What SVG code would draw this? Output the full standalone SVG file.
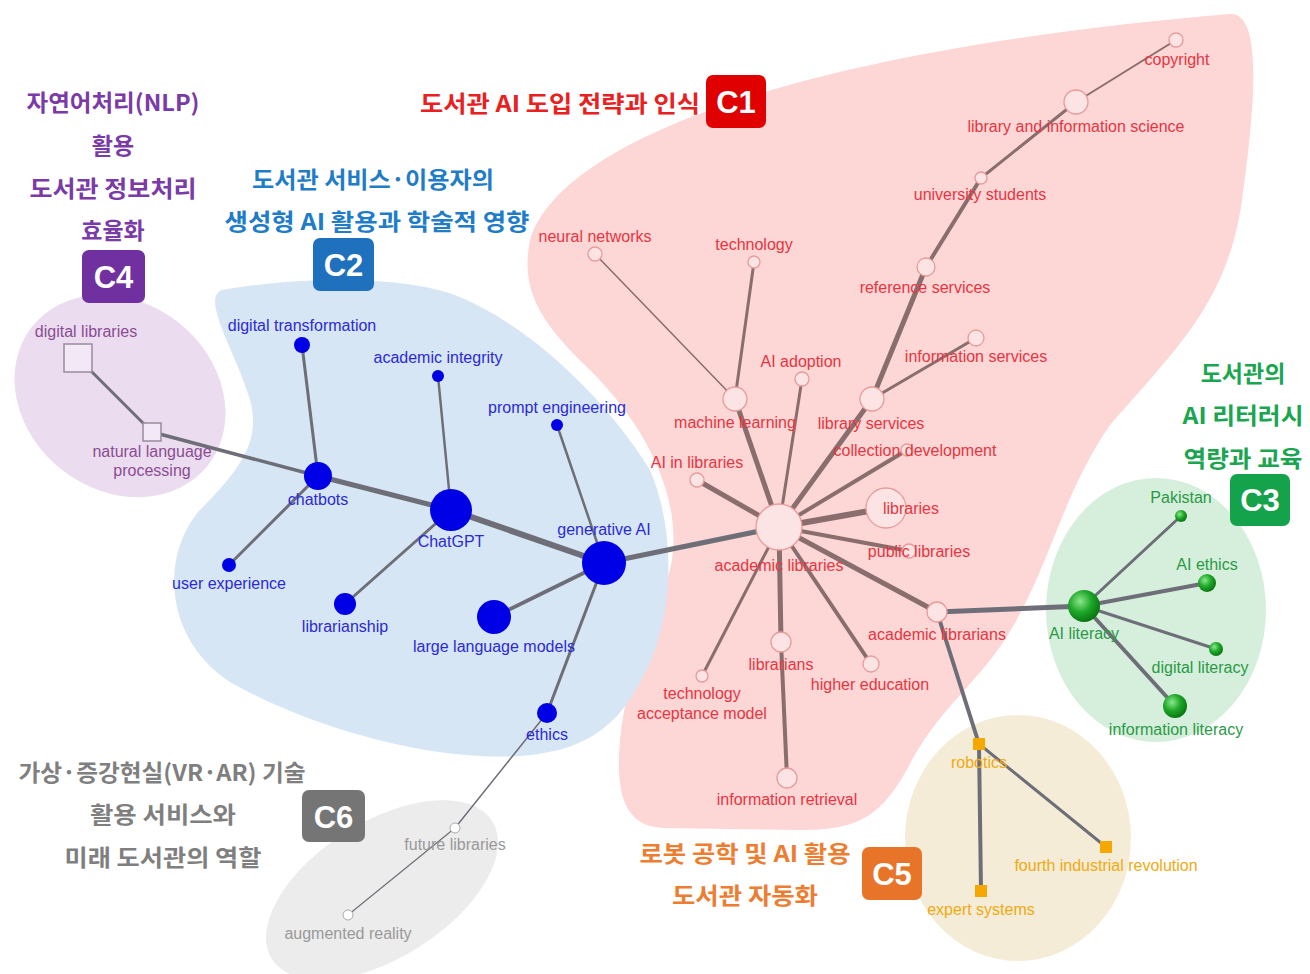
<svg xmlns="http://www.w3.org/2000/svg" width="1310" height="974" viewBox="0 0 1310 974">
<defs>
<radialGradient id="gball" cx="38%" cy="35%" r="70%">
<stop offset="0" stop-color="#8be88b"/>
<stop offset="0.5" stop-color="#1fa82a"/>
<stop offset="1" stop-color="#06700e"/>
</radialGradient>
<style>
text{font-family:"Liberation Sans","Noto Sans CJK KR",sans-serif;}
.t{font-family:"Noto Sans CJK KR","Liberation Sans",sans-serif;font-weight:bold;font-size:23px;text-anchor:middle;}
.b{font-family:"Liberation Sans","Noto Sans CJK KR",sans-serif;font-weight:bold;font-size:31px;fill:#fff;text-anchor:middle;}
.lab{font-size:16px;text-anchor:middle;}
.l1{fill:#e8353f;}
.l2{fill:#2a2ad8;}
.l3{fill:#2a9a45;}
.l4{fill:#8a4d94;}
.l5{fill:#f0aa10;}
.l6{fill:#999;}
.e1{stroke:#8a6d6d;stroke-linecap:round;fill:none;}
.e2{stroke:#6e6e78;stroke-linecap:round;fill:none;}
.n1{fill:#fce4e4;stroke:#e99a9a;stroke-width:1.3;}
.n2{fill:#0000e6;}
.n4{fill:#f3e8f5;stroke:#9a8aa0;stroke-width:1.5;}
.n5{fill:#f5a800;}
.n6{fill:#fff;stroke:#aaa;stroke-width:1;}
</style>
</defs>
<rect width="1310" height="974" fill="#fff"/>

<g id="clusters">
<path id="bg-c1" fill="#fdd6d6" d="M 530,240 C 560,140 800,50 1230,14 C 1262,12 1256,100 1242,200 C 1228,300 1180,345 1110,425 C 1062,495 1052,560 1012,628 C 982,680 942,705 912,760 C 882,818 858,830 800,830 L 662,828 C 622,825 616,790 620,740 C 628,660 660,620 672,560 C 682,490 640,420 590,370 C 540,322 520,290 530,240 Z"/>
<path id="bg-c2" fill="#d7e6f4" d="M 222,290 C 300,276 400,276 452,294 C 522,320 602,392 650,470 C 676,530 676,622 640,682 C 610,742 560,760 480,756 C 400,752 300,722 230,682 C 168,642 158,562 198,512 C 238,472 262,442 250,400 C 236,352 200,298 222,290 Z"/>
<ellipse id="bg-c4" fill="#ecdcef" cx="120" cy="396" rx="112" ry="94" transform="rotate(38 120 396)"/>
<ellipse id="bg-c3" fill="#d6efdc" cx="1156" cy="610" rx="110" ry="132"/>
<ellipse id="bg-c5" fill="#f4ecd7" cx="1018" cy="838" rx="113" ry="123"/>
<ellipse id="bg-c6" fill="#ececec" cx="382" cy="890" rx="130" ry="68" transform="rotate(-32 382 890)"/>
</g>

<g id="titles">
<g id="title-c4">
<text class="t" x="113" y="111" fill="#7a3aa8" textLength="173" lengthAdjust="spacingAndGlyphs">자연어처리(NLP)</text>
<text class="t" x="113" y="154" fill="#7a3aa8">활용</text>
<text class="t" x="113" y="197" fill="#7a3aa8" textLength="167" lengthAdjust="spacingAndGlyphs">도서관 정보처리</text>
<text class="t" x="113" y="239" fill="#7a3aa8">효율화</text>
<rect x="82" y="250" width="63" height="53" rx="7" fill="#7030a0"/>
<text class="b" x="113.5" y="288">C4</text>
</g>
<g id="title-c2">
<text class="t" x="373" y="188" fill="#1f7cc8" textLength="242" lengthAdjust="spacingAndGlyphs">도서관 서비스·이용자의</text>
<text class="t" x="377" y="230" fill="#1f7cc8" textLength="305" lengthAdjust="spacingAndGlyphs">생성형 AI 활용과 학술적 영향</text>
<rect x="313" y="238" width="61" height="53" rx="7" fill="#1f70bd"/>
<text class="b" x="343.5" y="276">C2</text>
</g>
<g id="title-c1">
<text class="t" x="560" y="112" fill="#e8201e" textLength="280" lengthAdjust="spacingAndGlyphs">도서관 AI 도입 전략과 인식</text>
<rect x="706" y="75" width="60" height="53" rx="7" fill="#e00000"/>
<text class="b" x="736" y="113">C1</text>
</g>
<g id="title-c3">
<text class="t" x="1243" y="382" fill="#1aa550">도서관의</text>
<text class="t" x="1243" y="424" fill="#1aa550" textLength="121" lengthAdjust="spacingAndGlyphs">AI 리터러시</text>
<text class="t" x="1243" y="467" fill="#1aa550" textLength="119" lengthAdjust="spacingAndGlyphs">역량과 교육</text>
<rect x="1230" y="474" width="60" height="52" rx="7" fill="#14a24b"/>
<text class="b" x="1260" y="511">C3</text>
</g>
<g id="title-c5">
<text class="t" x="745" y="862" fill="#ed7d31" textLength="211" lengthAdjust="spacingAndGlyphs">로봇 공학 및 AI 활용</text>
<text class="t" x="745" y="904" fill="#ed7d31" textLength="146" lengthAdjust="spacingAndGlyphs">도서관 자동화</text>
<rect x="862" y="847" width="60" height="53" rx="7" fill="#e8742a"/>
<text class="b" x="892" y="885">C5</text>
</g>
<g id="title-c6">
<text class="t" x="162" y="781" fill="#7f7f7f" textLength="287" lengthAdjust="spacingAndGlyphs">가상·증강현실(VR·AR) 기술</text>
<text class="t" x="163" y="823" fill="#7f7f7f" textLength="146" lengthAdjust="spacingAndGlyphs">활용 서비스와</text>
<text class="t" x="163" y="866" fill="#7f7f7f" textLength="197" lengthAdjust="spacingAndGlyphs">미래 도서관의 역할</text>
<rect x="302" y="790" width="63" height="52" rx="7" fill="#757575"/>
<text class="b" x="333.5" y="828">C6</text>
</g>
</g>

<g id="connectors">
<line class="e1" x1="1176" y1="40" x2="1076" y2="102" stroke-width="2"/>
<line class="e1" x1="1076" y1="102" x2="981" y2="178" stroke-width="3"/>
<line class="e1" x1="981" y1="178" x2="926" y2="267" stroke-width="4"/>
<line class="e1" x1="926" y1="267" x2="872" y2="399" stroke-width="5"/>
<line class="e1" x1="976" y1="338" x2="872" y2="399" stroke-width="3"/>
<line class="e1" x1="872" y1="399" x2="779" y2="527" stroke-width="5"/>
<line class="e1" x1="735" y1="399" x2="779" y2="527" stroke-width="5"/>
<line class="e1" x1="754" y1="262" x2="735" y2="399" stroke-width="3"/>
<line class="e1" x1="595" y1="254" x2="735" y2="399" stroke-width="1.5"/>
<line class="e1" x1="802" y1="379" x2="779" y2="527" stroke-width="3"/>
<line class="e1" x1="697" y1="480" x2="779" y2="527" stroke-width="5"/>
<line class="e1" x1="907" y1="450" x2="779" y2="527" stroke-width="4"/>
<line class="e1" x1="886" y1="508" x2="779" y2="527" stroke-width="6"/>
<line class="e1" x1="909" y1="551" x2="779" y2="527" stroke-width="4"/>
<line class="e1" x1="937" y1="612" x2="779" y2="527" stroke-width="5"/>
<line class="e1" x1="871" y1="664" x2="779" y2="527" stroke-width="4"/>
<line class="e1" x1="781" y1="642" x2="779" y2="527" stroke-width="5"/>
<line class="e1" x1="702" y1="676" x2="779" y2="527" stroke-width="3"/>
<line class="e1" x1="781" y1="642" x2="787" y2="778" stroke-width="4"/>
<line class="e2" x1="604" y1="563" x2="779" y2="527" stroke-width="5"/>
<line class="e2" x1="937" y1="612" x2="1084" y2="606" stroke-width="5"/>
<line class="e2" x1="937" y1="612" x2="979" y2="744" stroke-width="4"/>
<line class="e2" x1="302" y1="345" x2="318" y2="476" stroke-width="3"/>
<line class="e2" x1="152" y1="432" x2="318" y2="476" stroke-width="3.5"/>
<line class="e2" x1="318" y1="476" x2="451" y2="510" stroke-width="5"/>
<line class="e2" x1="318" y1="476" x2="229" y2="565" stroke-width="3"/>
<line class="e2" x1="438" y1="376" x2="451" y2="510" stroke-width="2.5"/>
<line class="e2" x1="451" y1="510" x2="345" y2="604" stroke-width="3"/>
<line class="e2" x1="451" y1="510" x2="604" y2="563" stroke-width="6"/>
<line class="e2" x1="557" y1="425" x2="604" y2="563" stroke-width="2.5"/>
<line class="e2" x1="604" y1="563" x2="494" y2="617" stroke-width="4"/>
<line class="e2" x1="604" y1="563" x2="547" y2="713" stroke-width="3"/>
<line class="e2" x1="547" y1="713" x2="455" y2="828" stroke-width="1.5"/>
<line class="e2" x1="455" y1="828" x2="348" y2="915" stroke-width="1.2"/>
<line class="e2" x1="78" y1="358" x2="152" y2="432" stroke-width="3"/>
<line class="e2" x1="1084" y1="606" x2="1181" y2="516" stroke-width="3"/>
<line class="e2" x1="1084" y1="606" x2="1207" y2="583" stroke-width="4"/>
<line class="e2" x1="1084" y1="606" x2="1216" y2="649" stroke-width="3"/>
<line class="e2" x1="1084" y1="606" x2="1175" y2="706" stroke-width="4"/>
<line class="e2" x1="979" y1="744" x2="1106" y2="847" stroke-width="3"/>
<line class="e2" x1="979" y1="744" x2="981" y2="891" stroke-width="4"/>
</g>

<g id="n-copyright"><circle class="n1" cx="1176" cy="40" r="7"/><text class="lab l1" x="1177" y="65">copyright</text></g>
<g id="n-lis"><circle class="n1" cx="1076" cy="102" r="12"/><text class="lab l1" x="1076" y="132">library and information science</text></g>
<g id="n-univ"><circle class="n1" cx="981" cy="178" r="6"/><text class="lab l1" x="980" y="200">university students</text></g>
<g id="n-ref"><circle class="n1" cx="926" cy="267" r="9"/><text class="lab l1" x="925" y="293">reference services</text></g>
<g id="n-infoserv"><circle class="n1" cx="976" cy="338" r="8"/><text class="lab l1" x="976" y="362">information services</text></g>
<g id="n-libserv"><circle class="n1" cx="872" cy="399" r="12"/><text class="lab l1" x="871" y="429">library services</text></g>
<g id="n-colldev"><circle class="n1" cx="907" cy="450" r="6"/><text class="lab l1" x="915" y="456" text-anchor="start">collection development</text></g>
<g id="n-libraries"><circle class="n1" cx="886" cy="508" r="20"/><text class="lab l1" x="911" y="514" text-anchor="start">libraries</text></g>
<g id="n-publib"><circle class="n1" cx="909" cy="551" r="7"/><text class="lab l1" x="919" y="557" text-anchor="start">public libraries</text></g>
<g id="n-acadlib"><circle class="n1" cx="779" cy="527" r="23"/><text class="lab l1" x="779" y="571">academic libraries</text></g>
<g id="n-acadlibrarians"><circle class="n1" cx="937" cy="612" r="10"/><text class="lab l1" x="937" y="640">academic librarians</text></g>
<g id="n-highered"><circle class="n1" cx="871" cy="664" r="8"/><text class="lab l1" x="870" y="690">higher education</text></g>
<g id="n-librarians"><circle class="n1" cx="781" cy="642" r="10"/><text class="lab l1" x="781" y="670">librarians</text></g>
<g id="n-tam"><circle class="n1" cx="702" cy="676" r="6"/><text class="lab l1" x="702" y="699">technology</text><text class="lab l1" x="702" y="719">acceptance model</text></g>
<g id="n-inforetr"><circle class="n1" cx="787" cy="778" r="10"/><text class="lab l1" x="787" y="805">information retrieval</text></g>
<g id="n-aiinlib"><circle class="n1" cx="697" cy="480" r="7"/><text class="lab l1" x="697" y="468">AI in libraries</text></g>
<g id="n-ml"><circle class="n1" cx="735" cy="399" r="12"/><text class="lab l1" x="735" y="428">machine learning</text></g>
<g id="n-aiadopt"><circle class="n1" cx="802" cy="379" r="7"/><text class="lab l1" x="801" y="367">AI adoption</text></g>
<g id="n-technology"><circle class="n1" cx="754" cy="262" r="6"/><text class="lab l1" x="754" y="250">technology</text></g>
<g id="n-neural"><circle class="n1" cx="595" cy="254" r="7"/><text class="lab l1" x="595" y="242">neural networks</text></g>

<g id="n-digtrans"><circle class="n2" cx="302" cy="345" r="8"/><text class="lab l2" x="302" y="331">digital transformation</text></g>
<g id="n-acadint"><circle class="n2" cx="438" cy="376" r="6"/><text class="lab l2" x="438" y="363">academic integrity</text></g>
<g id="n-prompt"><circle class="n2" cx="557" cy="425" r="6"/><text class="lab l2" x="557" y="413">prompt engineering</text></g>
<g id="n-chatbots"><circle class="n2" cx="318" cy="476" r="14"/><text class="lab l2" x="318" y="505">chatbots</text></g>
<g id="n-chatgpt"><circle class="n2" cx="451" cy="510" r="21"/><text class="lab l2" x="451" y="547">ChatGPT</text></g>
<g id="n-genai"><circle class="n2" cx="604" cy="563" r="22"/><text class="lab l2" x="604" y="535">generative AI</text></g>
<g id="n-userexp"><circle class="n2" cx="229" cy="565" r="7"/><text class="lab l2" x="229" y="589">user experience</text></g>
<g id="n-librarianship"><circle class="n2" cx="345" cy="604" r="11"/><text class="lab l2" x="345" y="632">librarianship</text></g>
<g id="n-llm"><circle class="n2" cx="494" cy="617" r="17"/><text class="lab l2" x="494" y="652">large language models</text></g>
<g id="n-ethics"><circle class="n2" cx="547" cy="713" r="10"/><text class="lab l2" x="547" y="740">ethics</text></g>

<g id="n-diglib"><rect class="n4" x="64" y="344" width="28" height="28"/><text class="lab l4" x="86" y="337">digital libraries</text></g>
<g id="n-nlp"><rect class="n4" x="143" y="423" width="18" height="18"/><text class="lab l4" x="152" y="457">natural language</text><text class="lab l4" x="152" y="476">processing</text></g>

<g id="n-pakistan"><circle fill="url(#gball)" cx="1181" cy="516" r="6"/><text class="lab l3" x="1181" y="503">Pakistan</text></g>
<g id="n-aiethics"><circle fill="url(#gball)" cx="1207" cy="583" r="9"/><text class="lab l3" x="1207" y="570">AI ethics</text></g>
<g id="n-ailit"><circle fill="url(#gball)" cx="1084" cy="606" r="16"/><text class="lab l3" x="1084" y="639">AI literacy</text></g>
<g id="n-diglit"><circle fill="url(#gball)" cx="1216" cy="649" r="7"/><text class="lab l3" x="1200" y="673">digital literacy</text></g>
<g id="n-infolit"><circle fill="url(#gball)" cx="1175" cy="706" r="12"/><text class="lab l3" x="1176" y="735">information literacy</text></g>

<g id="n-robotics"><rect class="n5" x="973" y="738" width="12" height="12"/><text class="lab l5" x="979" y="768">robotics</text></g>
<g id="n-fourth"><rect class="n5" x="1100" y="841" width="12" height="12"/><text class="lab l5" x="1106" y="871">fourth industrial revolution</text></g>
<g id="n-expert"><rect class="n5" x="975" y="885" width="12" height="12"/><text class="lab l5" x="981" y="915">expert systems</text></g>

<g id="n-future"><circle class="n6" cx="455" cy="828" r="5"/><text class="lab l6" x="455" y="850">future libraries</text></g>
<g id="n-ar"><circle class="n6" cx="348" cy="915" r="5"/><text class="lab l6" x="348" y="939">augmented reality</text></g>
</svg>
